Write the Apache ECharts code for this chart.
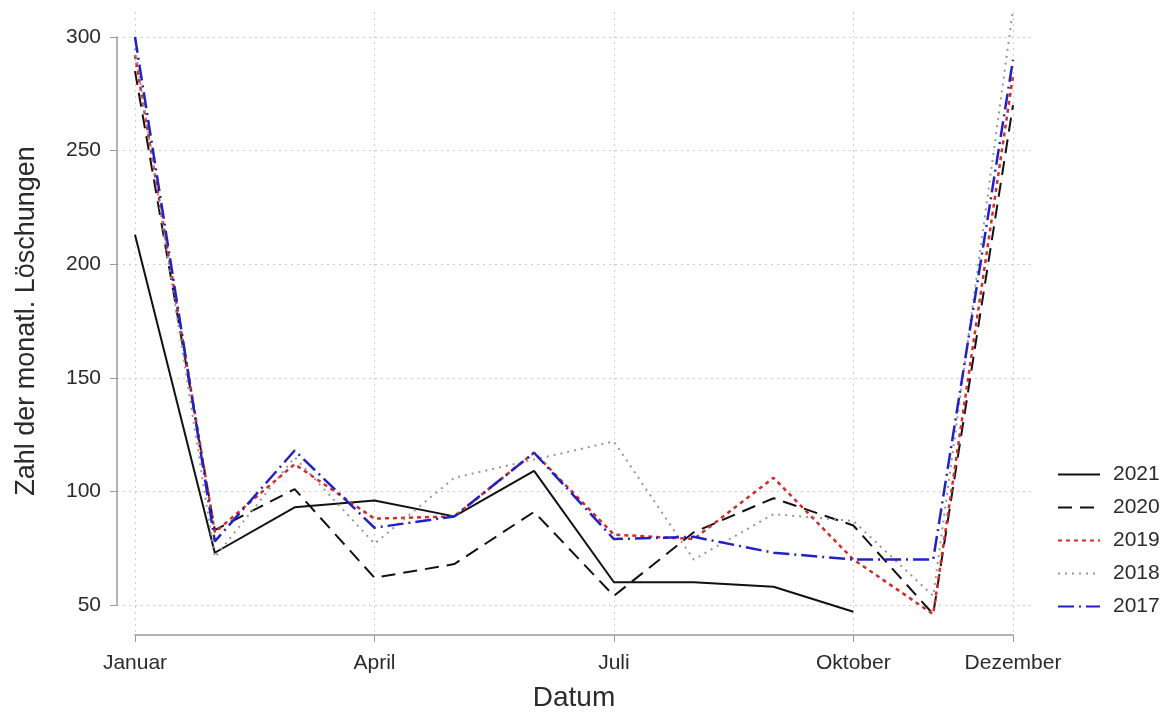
<!DOCTYPE html>
<html>
<head>
<meta charset="utf-8">
<script src="https://cdn.jsdelivr.net/npm/echarts@6/dist/echarts.min.js"></script>
<style>
  html, body { margin: 0; padding: 0; background: #fff; }
  #chart { width: 1174px; height: 714px; }
</style>
</head>
<body>
<div id="chart"></div>
<script>
// monthly deletions per year
const months = ['Januar', 'Februar', 'März', 'April', 'Mai', 'Juni', 'Juli', 'August', 'September', 'Oktober', 'November', 'Dezember'];
const shownMonths = [0, 3, 6, 9, 11];
const yTicks = [50, 100, 150, 200, 250, 300];

const y2021 = [213, 73, 93, 96, 89, 109, 60, 60, 58, 47, null, null];
const y2020 = [285, 83, 101, 62, 68, 91, 54, 82, 97, 85, 46, 270];
const y2019 = [292, 82, 112, 88, 89, 117, 81, 79, 106, 70, 46, 283];
const y2018 = [295, 71, 115, 77, 106, 114, 122, 70, 90, 87, 54, 312];
const y2017 = [300, 78, 118, 84, 89, 117, 79, 80, 73, 70, 70, 290];

const font = 'Liberation Sans, Arial, sans-serif';
const axisGray = '#9a9a9a';
const gridGray = '#cfcfcf';
const textColor = '#2b2b2b';

const chart = echarts.init(document.getElementById('chart'));

function makeSeries(name, data, color, width, dash) {
    return {
        name: name,
        type: 'line',
        xAxisIndex: 2,
        yAxisIndex: 2,
        data: data,
        symbol: 'none',
        clip: false,
        connectNulls: false,
        lineStyle: { color: color, width: width, type: dash },
        itemStyle: { color: color }
    };
}

const showIdx = (i) => shownMonths.indexOf(i) >= 0;

const option = {
    backgroundColor: '#ffffff',
    animation: false,
    textStyle: { fontFamily: font },
    grid: [
        { left: 117, top: 37, width: 918, height: 568, outerBoundsMode: 'none' },
        { left: 135, top: 12, width: 878, height: 623, outerBoundsMode: 'none' },
        { left: 135, top: 37, width: 878, height: 568, outerBoundsMode: 'none' }
    ],
    xAxis: [
        { gridIndex: 0, type: 'value', min: 0, max: 1, show: false },
        {
            gridIndex: 1,
            type: 'category',
            data: months,
            boundaryGap: false,
            axisLine: { show: true, lineStyle: { color: axisGray, width: 1.5 } },
            axisTick: { show: true, interval: (i) => showIdx(i), length: 7, lineStyle: { color: axisGray } },
            axisLabel: { interval: (i) => showIdx(i), fontSize: 21, color: textColor, margin: 18 },
            splitLine: { show: true, interval: (i) => showIdx(i), lineStyle: { color: gridGray, type: [2, 4] } },
            name: 'Datum',
            nameLocation: 'middle',
            nameGap: 49,
            nameTextStyle: { fontSize: 28, color: textColor }
        },
        { gridIndex: 2, type: 'category', data: months, boundaryGap: false, show: false }
    ],
    yAxis: [
        {
            gridIndex: 0,
            type: 'value',
            min: yTicks[0],
            max: yTicks[yTicks.length - 1],
            interval: 50,
            axisLine: { show: true, lineStyle: { color: axisGray, width: 1.5 } },
            axisTick: { show: true, length: 7, lineStyle: { color: axisGray } },
            axisLabel: { fontSize: 21, color: textColor, margin: 16 },
            splitLine: { show: true, lineStyle: { color: gridGray, type: [2, 4] } },
            name: 'Zahl der monatl. Löschungen',
            nameLocation: 'middle',
            nameGap: 77,
            nameTextStyle: { fontSize: 27, color: textColor }
        },
        { gridIndex: 1, type: 'value', min: 0, max: 1, show: false },
        { gridIndex: 2, type: 'value', min: 50, max: 300, show: false }
    ],
    legend: {
        orient: 'vertical',
        left: 1052,
        top: 459,
        itemWidth: 42,
        itemHeight: 14,
        itemGap: 12,
        itemStyle: { opacity: 0 },
        textStyle: { fontSize: 21, color: textColor, padding: [0, 0, 0, 8] },
        data: ['2021', '2020', '2019', '2018', '2017']
    },
    series: [
        makeSeries('2021', y2021, '#111111', 2, 'solid'),
        makeSeries('2020', y2020, '#111111', 2, [14, 8]),
        makeSeries('2019', y2019, '#d42a2a', 2.5, [4, 4]),
        makeSeries('2018', y2018, '#8f9a93', 2, [2, 5]),
        makeSeries('2017', y2017, '#2222c4', 2.5, [16, 5, 2, 5])
    ]
};

chart.setOption(option);
</script>
</body>
</html>
